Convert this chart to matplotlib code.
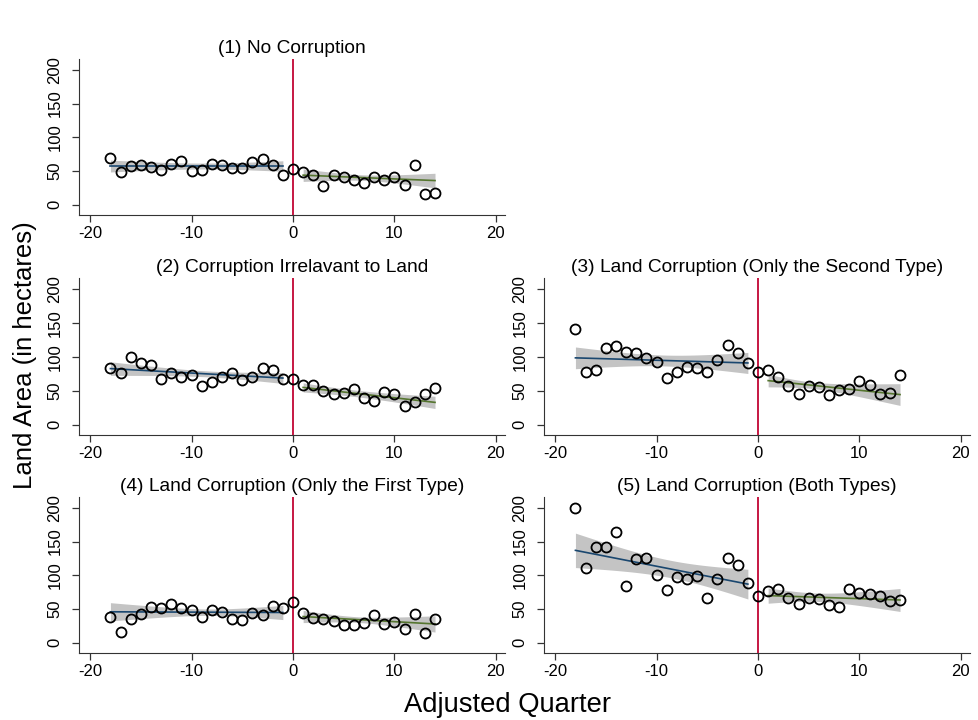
import numpy as np
import matplotlib
matplotlib.use('Agg')
import matplotlib.pyplot as plt

plt.rcParams['font.family'] = ['Liberation Sans', 'DejaVu Sans']
plt.rcParams['axes.unicode_minus'] = False

## Data
quarters = np.arange(-18, 15)

titles = ['(1) No Corruption',
          '(2) Corruption Irrelavant to Land',
          '(3) Land Corruption (Only the Second Type)',
          '(4) Land Corruption (Only the First Type)',
          '(5) Land Corruption (Both Types)']

no_corr = [69, 48.5, 57, 59, 56, 52, 60, 65, 50.5, 51.5, 61, 59, 55, 55, 64, 68, 59, 44,
           52.5, 48, 44, 28, 44, 42, 37, 32, 41, 37, 41, 29, 59, 16, 18]
irrel = [84, 76, 100, 91, 88, 67, 76, 71, 74, 57, 63, 70, 76, 66, 70, 83, 81, 68,
         68, 59, 58, 50, 45, 47, 53, 39, 35, 48, 45, 27, 33, 46, 54]
second = [141.5, 78, 81, 113, 116, 107, 105, 98, 93, 69, 78, 85, 83, 77, 96, 117, 105, 91,
          78, 81, 70, 57, 45, 57, 55, 44, 50.5, 53, 65, 59, 45.5, 47, 73]
first = [39, 16, 35, 43, 53, 52, 58, 52, 49, 39, 49, 45, 35, 33.5, 44, 42, 54, 52,
         61, 44, 37, 36, 33, 27, 27, 30, 42, 28, 31.5, 20, 43, 14, 36]
both = [199, 110.5, 142.5, 142.5, 164, 84.5, 124, 126, 100, 79, 97, 95, 99, 67, 94, 126, 115, 89,
        69, 77, 80.5, 67, 57, 67, 65, 56, 53.5, 79.5, 74, 72, 69, 62, 64]

series = [no_corr, irrel, second, first, both]

# fitted line values at first / last quarter of each side (quarters -18..-1 and 1..14)
fit_pre = [(57.5, 57.5), (82.7, 68.8), (98.5, 91), (46, 45), (137, 87)]
fit_post = [(44, 36), (55, 33), (65, 44.5), (39, 28), (70, 63.5)]
# 95% CI half widths at start, middle and end
ci_pre = [(8.8, 4.4, 7.8), (10, 4.5, 8), (16, 8, 15.5), (13.5, 5, 10.5), (25.5, 13, 22)]
ci_post = [(9.3, 4.2, 10.8), (6.7, 5, 9), (9.2, 6, 16), (9, 4.5, 12), (11.3, 7, 17)]

# panel boxes in pixels: left, top, right, bottom
W, H = 979., 720.
boxes = [(79, 59, 505, 215),
         (79, 278, 505, 435),
         (544, 278, 970, 435),
         (79, 497, 505, 653),
         (544, 497, 970, 653)]

navy = '#1a476f'
green = '#55752f'
red = '#c10534'
band = '#c4c4c4'
axcol = '#333333'


def fit_ci(ax, x0, x1, ends, hw, col):
    xx = np.linspace(x0, x1, 100)
    yy = ends[0] + (ends[1] - ends[0]) * (xx - x0) / (x1 - x0)
    # CI half width is hyperbolic: quadratic in squared width
    c = np.polyfit([x0, (x0 + x1) / 2.0, x1], np.array(hw) ** 2, 2)
    w = np.sqrt(np.polyval(c, xx))
    ax.fill_between(xx, yy - w, yy + w, color=band, lw=0, zorder=1)
    ax.plot(xx, yy, color=col, lw=1.2, zorder=2)


def draw_panel(i):
    l, t, r, b = boxes[i]
    ax = fig.add_axes([l / W, 1 - b / H, (r - l) / W, (b - t) / H])
    vals = np.asarray(series[i], dtype=float)
    fit_ci(ax, quarters[0], -1, fit_pre[i], ci_pre[i], navy)
    fit_ci(ax, 1, quarters[-1], fit_post[i], ci_post[i], green)
    ax.axvline(0, color=red, lw=1.3, zorder=3)
    ax.plot(quarters, vals, 'o', mfc='none', mec='black', ms=7.2, mew=1.3, zorder=4)
    ax.set_xlim(-21.1, 20.9)
    ax.set_ylim(-15, 216)
    ax.set_xticks([-20, -10, 0, 10, 20])
    ax.set_yticks([0, 50, 100, 150, 200])
    for lab in ax.get_yticklabels():
        lab.set_rotation(90)
        lab.set_va('center')
    ax.spines['top'].set_visible(False)
    ax.spines['right'].set_visible(False)
    ax.spines['left'].set_color(axcol)
    ax.spines['bottom'].set_color(axcol)
    ax.tick_params(axis='both', labelsize=12, length=5, width=0.9, color=axcol)
    ax.tick_params(axis='x', pad=3)
    ax.tick_params(axis='y', pad=7)
    ax.set_title(titles[i], fontsize=13.8, pad=4)
    return ax


fig = plt.figure(figsize=(9.79, 7.2), dpi=100)
for i in range(5):
    draw_panel(i)

fig.text(25 / W, 1 - 355 / H, 'Land Area (in hectares)', rotation=90,
         ha='center', va='center', fontsize=18.5)
fig.text(508 / W, 1 - 705 / H, 'Adjusted Quarter', ha='center', va='center', fontsize=19.7)

fig.savefig('out.png', dpi=100)
